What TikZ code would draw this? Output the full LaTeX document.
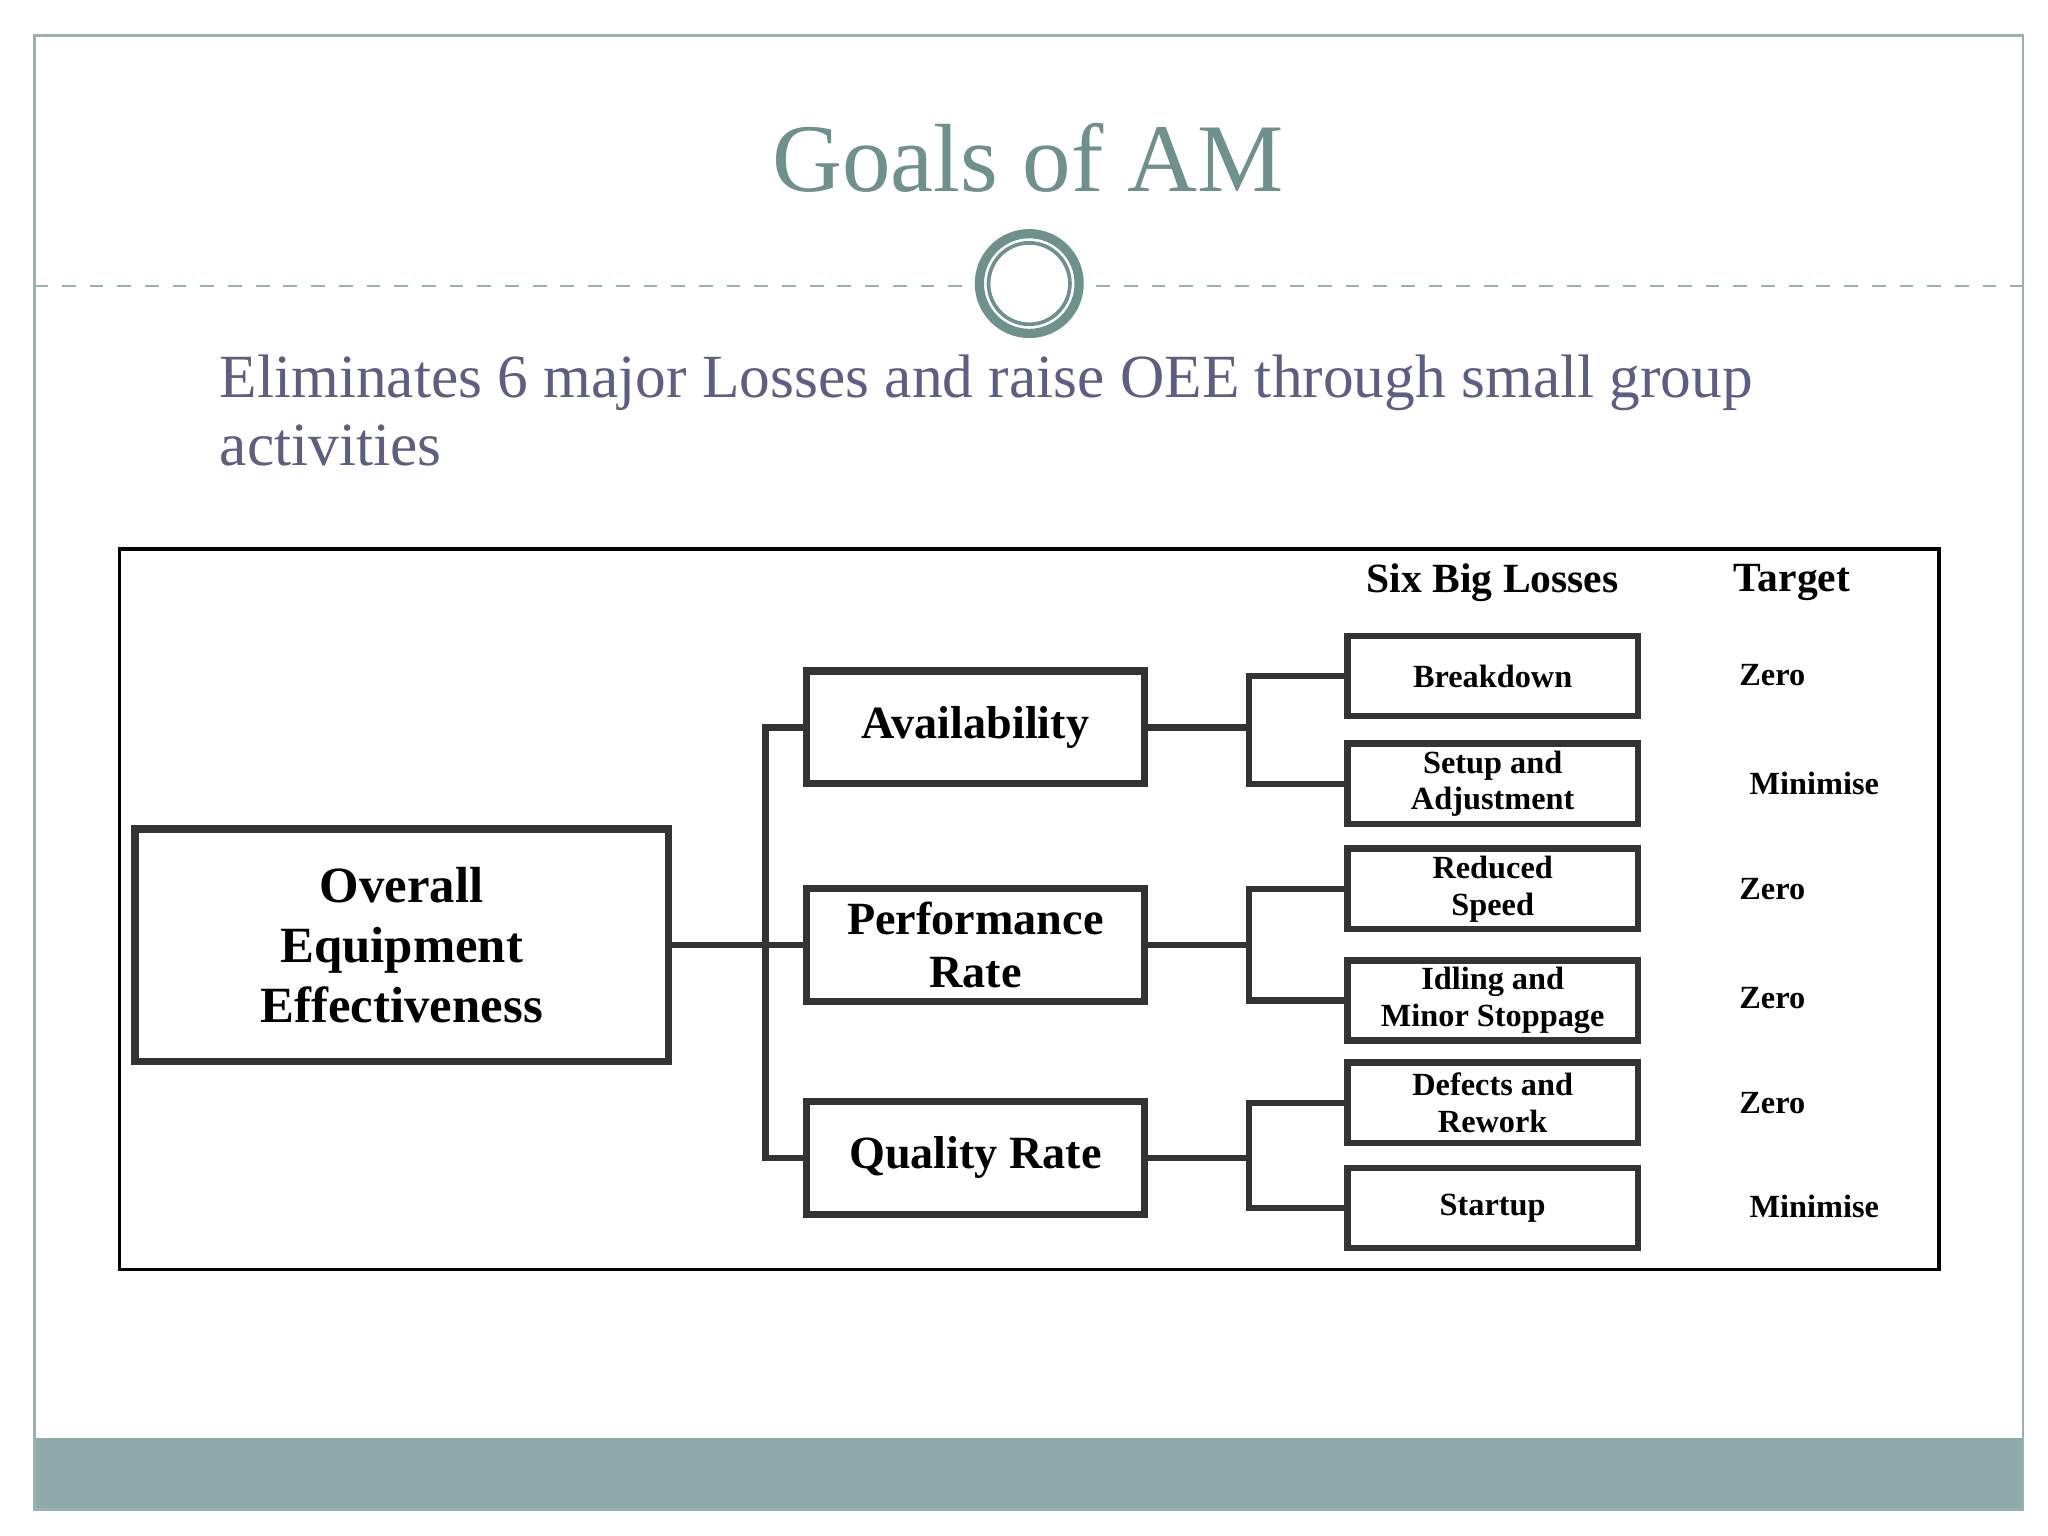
\documentclass[tikz,border=0pt]{standalone}
\usepackage{fontspec}
\setmainfont{Liberation Serif}
\begin{document}
\begin{tikzpicture}[x=0.01cm,y=-0.01cm,
  bx/.style={draw=black!80,line width=1.6pt,inner sep=0pt,align=center,font=\bfseries\fontsize{11}{13}\selectfont},
  mid/.style={draw=black!80,line width=1.6pt,inner sep=0pt,align=center,minimum width=2.57cm,minimum height=0.86cm,font=\bfseries\fontsize{10}{11.5}\selectfont},
  sm/.style={draw=black!80,line width=1.4pt,inner sep=0pt,align=center,minimum width=2.21cm,minimum height=0.61cm,font=\bfseries\fontsize{7}{8}\selectfont},
  tg/.style={font=\bfseries\fontsize{7}{8}\selectfont},
  ln/.style={line width=1.4pt,black!80}]
\definecolor{teal}{HTML}{6E918C}
\definecolor{sub}{HTML}{5E5E84}
\definecolor{bar}{HTML}{8FAAAA}
\useasboundingbox (0,0) rectangle (1560,1170);
\fill[white] (0,0) rectangle (1560,1170);
\fill[bar] (26,1095) rectangle (1541,1150);
\draw[teal!70,line width=0.6pt] (26,27) rectangle (1541,1150);
\node[text=teal,font=\fontsize{21}{24}\selectfont] (title) at (783,120) {Goals of AM};
\draw[teal!70,dashed,line width=0.5pt] (26,218) -- (735,218);
\draw[teal!70,dashed,line width=0.5pt] (835,218) -- (1541,218);
\draw[teal,line width=2pt,fill=white] (784,216) circle (38);
\draw[teal,line width=0.8pt] (784,216) circle (31);
\node[text=sub,anchor=north west,align=left,font=\fontsize{13.3}{14.8}\selectfont] (subt) at (155,258) {Eliminates 6 major Losses and raise OEE through small group\\activities};
\draw[black,line width=0.8pt] (91,418) rectangle (1477,967);
\node[bx,minimum width=4.06cm,minimum height=1.77cm] (oee) at (306,720) {Overall\\Equipment\\Effectiveness};
\node[mid] (av) at (743,554) {Availability};
\node[mid] (pr) at (743,720) {Performance\\Rate};
\node[mid] (qr) at (743,882) {Quality Rate};
\node[sm] (b1) at (1137,515) {Breakdown};
\node[sm] (b2) at (1137,597) {Setup and\\Adjustment};
\node[sm] (b3) at (1137,677) {Reduced\\Speed};
\node[sm] (b4) at (1137,762) {Idling and\\Minor Stoppage};
\node[sm] (b5) at (1137,840) {Defects and\\Rework};
\node[sm] (b6) at (1137,920) {Startup};
\node[font=\bfseries\fontsize{9}{10}\selectfont] (h1) at (1137,444) {Six Big Losses};
\node[font=\bfseries\fontsize{9}{10}\selectfont] (h2) at (1365,444) {Target};
\node[tg] (t1) at (1350,514) {Zero};
\node[tg] (t2) at (1382,597) {Minimise};
\node[tg] (t3) at (1350,677) {Zero};
\node[tg] (t4) at (1350,760) {Zero};
\node[tg] (t5) at (1350,840) {Zero};
\node[tg] (t6) at (1382,919) {Minimise};
\coordinate (j0) at (583,720);
\draw[ln] (oee.east) -- (pr.west);
\draw[ln] (av.west) -| (j0) |- (qr.west);
\foreach \m/\a/\b in {av/b1/b2,pr/b3/b4,qr/b5/b6}{
  \draw[ln] (\m.east) -- ++(77,0);
  \draw[ln] (\a.west) -| ([xshift=0.77cm]\m.east) |- (\b.west);
}
\end{tikzpicture}
\end{document}
